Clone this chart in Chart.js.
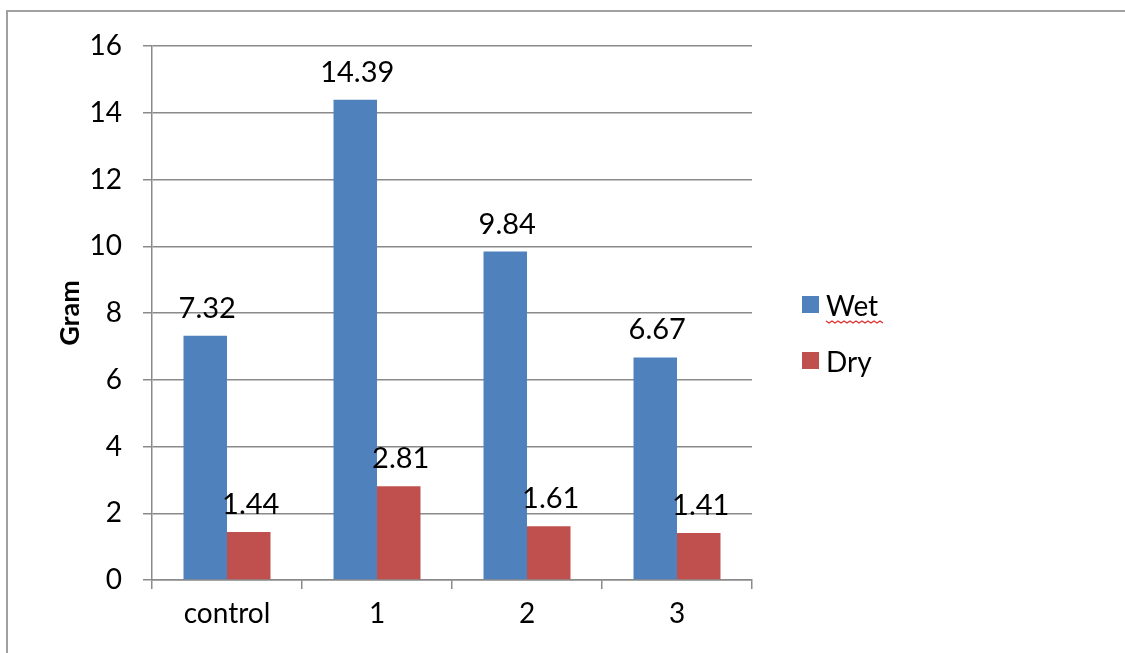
<!DOCTYPE html>
<html lang="en">
<head>
    <meta charset="UTF-8">
    <title>Wet and dry weight</title>
    <style>
        body { margin: 0; background: #fff; }
        #frame { position: absolute; left: 6px; top: 10px; width: 1130px; height: 660px;
                 border-left: 2px solid #a0a0a0; border-top: 2px solid #a0a0a0; }
        #wrap { position: absolute; left: 0; top: 0; width: 1125px; height: 653px; }
    </style>
</head>
<body>
    <div id="frame"></div>
    <div id="wrap"><canvas id="weights"></canvas></div>
    <script src="https://cdn.jsdelivr.net/npm/chart.js"></script>
<script type="text/javascript">

    const categories = ['control', '1', '2', '3'];
    const wet = [7.32, 14.39, 9.84, 6.67];
    const dry = [1.44, 2.81, 1.61, 1.41];
    const yTicks = [0, 2, 4, 6, 8, 10, 12, 14, 16];

    const FONT = 'Lato, "Open Sans", sans-serif';

    // value labels above each bar
    const valueLabels = {
        id: 'valueLabels',
        afterDatasetsDraw(chart) {
            const ctx = chart.ctx;
            ctx.save();
            ctx.font = '29px ' + FONT;
            ctx.fillStyle = '#000';
            ctx.textAlign = 'center';
            ctx.textBaseline = 'alphabetic';
            chart.data.datasets.forEach((ds, i) => {
                chart.getDatasetMeta(i).data.forEach((bar, j) => {
                    ctx.fillText(ds.data[j].toFixed(2), bar.x + 2, bar.y - 18);
                });
            });
            ctx.restore();
        }
    };

    // legend on the right, drawn by hand
    const sideLegend = {
        id: 'sideLegend',
        afterDraw(chart) {
            const ctx = chart.ctx;
            ctx.save();
            ctx.font = '28px ' + FONT;
            ctx.textBaseline = 'alphabetic';
            ctx.textAlign = 'left';
            chart.data.datasets.forEach((ds, i) => {
                const y = 296 + i * 56;
                ctx.fillStyle = ds.backgroundColor;
                ctx.fillRect(802, y, 17, 17);
                ctx.fillStyle = '#000';
                ctx.fillText(ds.label, 826, y + 20);
            });
            // spell-check squiggle under "Wet"
            ctx.strokeStyle = '#e03030';
            ctx.lineWidth = 1.3;
            ctx.beginPath();
            for (let x = 826; x <= 884; x += 3) {
                const yy = 321 + ((x - 826) / 3 % 2 ? 2 : 0);
                if (x === 826) ctx.moveTo(x, yy); else ctx.lineTo(x, yy);
            }
            ctx.stroke();
            ctx.restore();
        }
    };

    new Chart(document.getElementById('weights').getContext('2d'), {
        type: 'bar',
        data: {
            labels: categories,
            datasets: [
                { label: 'Wet', data: wet, backgroundColor: '#4F81BD', borderWidth: 0 },
                { label: 'Dry', data: dry, backgroundColor: '#C0504D', borderWidth: 0 }
            ]
        },
        options: {
            responsive: true,
            maintainAspectRatio: false,
            animation: false,
            events: [],
            layout: { padding: { left: 54, right: 373, top: 46, bottom: 0 } },
            datasets: { bar: { categoryPercentage: 0.58, barPercentage: 1.0 } },
            plugins: {
                legend: { display: false },
                tooltip: { enabled: false }
            },
            scales: {
                x: {
                    afterFit: s => { s.height = 73; },
                    grid: { offset: true, drawOnChartArea: false, tickLength: 9, color: '#8a8a8a', lineWidth: 1.5 },
                    border: { color: '#8a8a8a', width: 1.5 },
                    ticks: { color: '#000', font: { family: FONT, size: 28 }, padding: 8 }
                },
                y: {
                    min: 0,
                    max: 16,
                    afterFit: s => { s.width = 98; },
                    afterBuildTicks: s => { s.ticks = yTicks.map(v => ({ value: v })); },
                    grid: { color: '#8a8a8a', lineWidth: 1.5, tickLength: 9 },
                    border: { color: '#8a8a8a', width: 1.5 },
                    ticks: { color: '#000', font: { family: FONT, size: 28 }, padding: 21 },
                    title: {
                        display: true,
                        text: 'Gram',
                        color: '#000',
                        font: { family: FONT, size: 27, weight: 'bold' },
                        padding: 0
                    }
                }
            }
        },
        plugins: [valueLabels, sideLegend]
    });
</script>
</body>
</html>
